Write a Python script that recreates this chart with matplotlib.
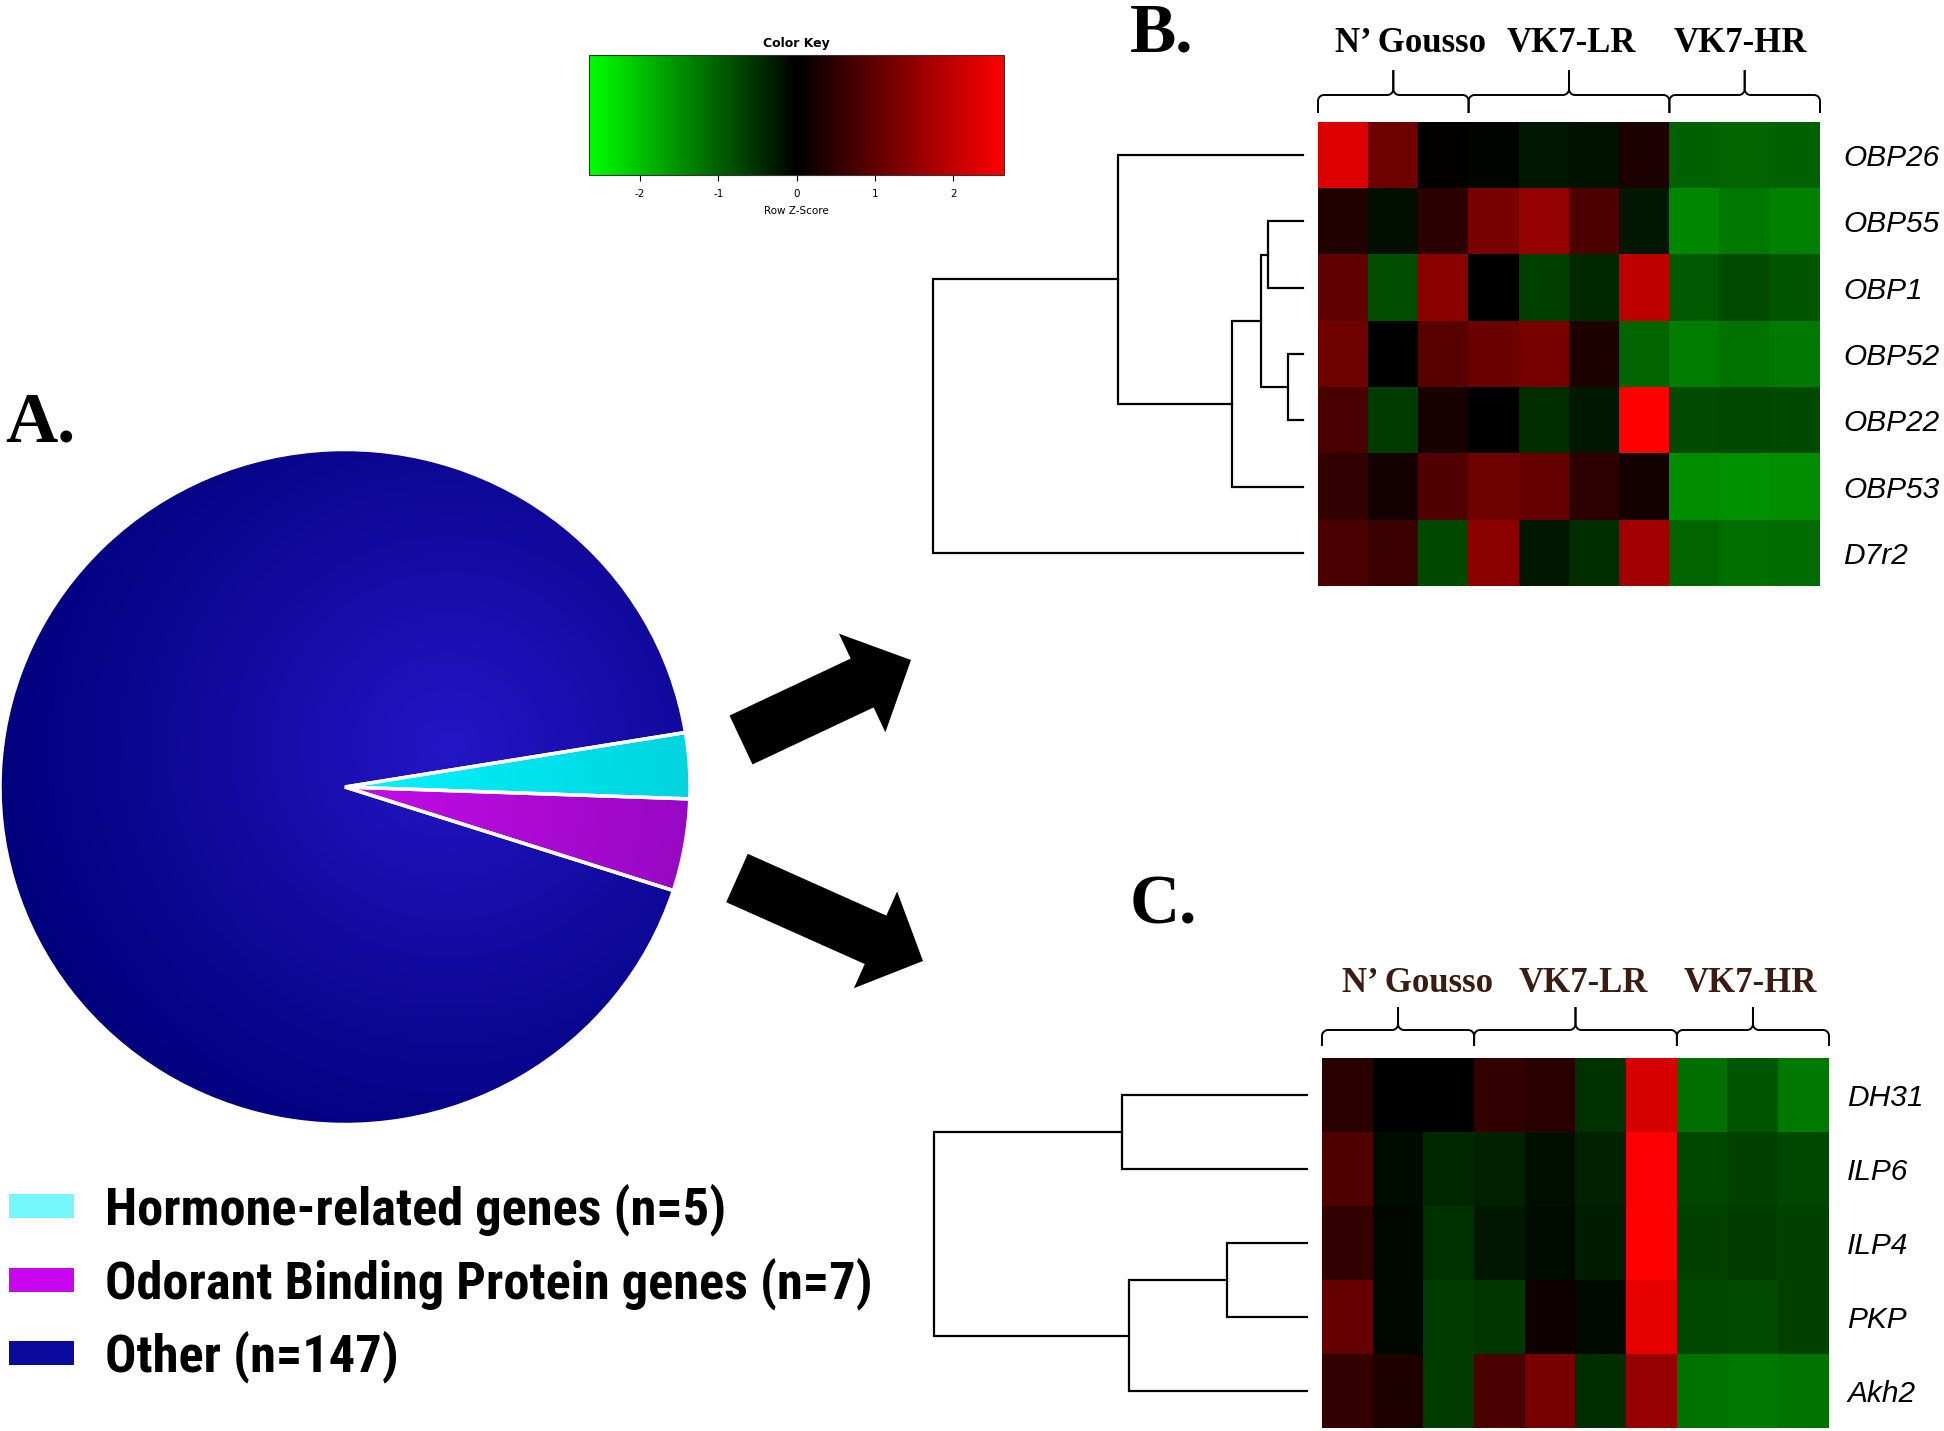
import numpy as np
import matplotlib
matplotlib.use('Agg')
import matplotlib.pyplot as plt
from matplotlib.colors import LinearSegmentedColormap, Normalize, to_rgb
from matplotlib.patches import FancyArrow, Rectangle
from matplotlib.cm import ScalarMappable
from matplotlib import font_manager

plt.rcParams['axes.unicode_minus'] = False

W, H = 1944, 1431

# ---- data ----
pie_labels = ['Hormone-related genes (n=5)', 'Odorant Binding Protein genes (n=7)', 'Other (n=147)']
pie_counts = [5, 7, 147]
key_cols = ['#74f6fb', '#c705ef', '#0a0a9e']

groups = ['N\u2019 Gousso', 'VK7-LR', 'VK7-HR']
group_size = [3, 4, 3]

genes_b = ['OBP26', 'OBP55', 'OBP1', 'OBP52', 'OBP22', 'OBP53', 'D7r2']
z_b = [[2.29, 1.15, 0.05, -0.05, -0.25, -0.20, 0.30, -1.00, -1.05, -1.00],
       [0.35, -0.15, 0.45, 1.25, 1.55, 0.80, -0.25, -1.40, -1.25, -1.33],
       [1.00, -0.80, 1.45, 0.00, -0.68, -0.42, 1.98, -0.93, -0.78, -0.88],
       [1.15, 0.00, 0.90, 1.10, 1.25, 0.30, -1.05, -1.30, -1.20, -1.25],
       [0.78, -0.62, 0.26, 0.00, -0.47, -0.26, 2.65, -0.78, -0.73, -0.75],
       [0.52, 0.20, 0.83, 1.15, 1.04, 0.47, 0.20, -1.45, -1.50, -1.45],
       [0.78, 0.62, -0.73, 1.45, -0.26, -0.47, 1.66, -1.04, -1.14, -1.10]]
# merges: (a, b, height)
link_b = [(3, 4, 15), (1, 2, 35), (8, 7, 42), (9, 5, 71), (0, 10, 185), (11, 6, 370)]

genes_c = ['DH31', 'ILP6', 'ILP4', 'PKP', 'Akh2']
z_c = [[0.42, 0.02, 0.00, 0.52, 0.42, -0.52, 2.23, -1.14, -0.88, -1.25],
       [0.83, -0.12, -0.42, -0.36, -0.16, -0.36, 2.60, -0.73, -0.68, -0.73],
       [0.52, -0.08, -0.52, -0.26, -0.12, -0.31, 2.65, -0.68, -0.62, -0.68],
       [1.04, -0.08, -0.62, -0.57, 0.16, -0.10, 2.40, -0.73, -0.78, -0.68],
       [0.52, 0.31, -0.62, 0.78, 1.25, -0.47, 1.56, -1.20, -1.25, -1.20]]
link_c = [(2, 3, 80), (0, 1, 185), (5, 4, 178), (6, 7, 373)]

zlim = 2.65

names = {f.name for f in font_manager.fontManager.ttflist}
leg_font = 'Liberation Sans'
for nm in ['Liberation Sans Narrow', 'Arial Narrow', 'Roboto Condensed', 'Open Sans Condensed']:
    if nm in names:
        leg_font = nm
        break
serif = 'Liberation Serif'
sans = 'Liberation Sans'

rg = LinearSegmentedColormap.from_list('rg', ['#00ff00', '#000000', '#ff0000'])
norm = Normalize(-zlim, zlim)

fig = plt.figure(figsize=(W / 100, H / 100), dpi=100)


def fax(x0, y0, x1, y1):
    return fig.add_axes([x0 / W, 1 - y1 / H, (x1 - x0) / W, (y1 - y0) / H])


# canvas in pixel coords
cv = fax(0, 0, W, H)
cv.set_xlim(0, W)
cv.set_ylim(H, 0)
cv.axis('off')

# ---- pie ----
axp = fax(0, 449.5, 690, 1124.5)
wedges, _ = axp.pie(pie_counts, startangle=9.3, counterclock=False, radius=1,
                    wedgeprops=dict(edgecolor='white', linewidth=2.5))
gx, gy = np.meshgrid(np.linspace(-1, 1, 500), np.linspace(1, -1, 500))
rr = np.clip(np.hypot(gx, gy), 0, 1)
t_other = np.clip(np.hypot(gx - 0.3, gy - 0.12) / 1.35, 0, 1) ** 0.9
grads = [(('#00f4ff', '#00d4de'), rr), (('#c40ce8', '#9808c4'), rr), (('#2616c8', '#00007a'), t_other)]
for w, ((c0, c1), t) in zip(wedges, grads):
    a, b = np.array(to_rgb(c0)), np.array(to_rgb(c1))
    img = a[None, None, :] * (1 - t[..., None]) + b[None, None, :] * t[..., None]
    im = axp.imshow(img, extent=(-1, 1, -1, 1), aspect='auto', zorder=1)
    im.set_clip_path(w)
    w.set_facecolor('none')
    w.set_zorder(2)
axp.set_aspect('auto')
axp.set_xlim(-1, 1)
axp.set_ylim(-1, 1)
axp.axis('off')

# legend
row_y = [1206, 1280, 1353]
leg_txt = []
for lab, col, y in zip(pie_labels, key_cols, row_y):
    cv.add_patch(Rectangle((9, y - 12), 65, 24, facecolor=col, edgecolor='none'))
    leg_txt.append(cv.text(105, y + 18, lab, family=leg_font, fontweight='bold', fontsize=32,
                           va='baseline', ha='left'))
# fit the longest label to its width in the reference
rend = fig.canvas.get_renderer()
wid = max(t.get_window_extent(rend).width for t in leg_txt)
fs = min(38, 32 * 769 / wid)
for t in leg_txt:
    t.set_fontsize(fs)

cv.text(5, 442, 'A.', family=serif, fontweight='bold', fontsize=52, va='baseline')
cv.text(1130, 52, 'B.', family=serif, fontweight='bold', fontsize=50, va='baseline')
cv.text(1130, 923, 'C.', family=serif, fontweight='bold', fontsize=50, va='baseline')

# arrows
cv.add_patch(FancyArrow(741, 740, 170, -80, width=54, head_width=109, head_length=54,
                        length_includes_head=True, color='black', lw=0))
cv.add_patch(FancyArrow(737, 878, 186, 83, width=53, head_width=106, head_length=52,
                        length_includes_head=True, color='black', lw=0))

# ---- color key ----
cax = fax(589, 55, 1004, 175)
cb = fig.colorbar(ScalarMappable(norm=norm, cmap=rg), cax=cax, orientation='horizontal',
                  ticks=[-2, -1, 0, 1, 2])
cb.outline.set_linewidth(0.8)
cb.outline.set_edgecolor('#333333')
cax.tick_params(labelsize=7.5, length=4, width=0.8, pad=6)
cax.set_xlabel('Row Z-Score', fontsize=7.5, labelpad=5)
cax.set_title('Color Key', fontsize=9, fontweight='bold', pad=6)


def dendro(ax, link, n):
    pos = {i: (float(i), 0.0) for i in range(n)}
    for k, (a, b, h) in enumerate(link):
        ya, ha = pos[a]
        yb, hb = pos[b]
        ax.plot([ha, h, h, hb], [ya, ya, yb, yb], color='black', lw=1.6, clip_on=False,
                solid_joinstyle='miter')
        pos[n + k] = ((ya + yb) / 2, h)
    ax.set_xlim(link[-1][2], 0)
    ax.set_ylim(n - 0.5, -0.5)
    ax.axis('off')


def heat(ax, z, genes, pad):
    ax.imshow(np.array(z), cmap=rg, norm=norm, aspect='auto', interpolation='nearest')
    ax.set_xticks([])
    ax.yaxis.tick_right()
    ax.set_yticks(range(len(genes)), genes)
    for lab in ax.get_yticklabels():
        lab.set_family(sans)
        lab.set_fontstyle('italic')
        lab.set_fontsize(21.5)
    ax.tick_params(axis='y', length=0, pad=pad)
    for s in ax.spines.values():
        s.set_visible(False)


def braces(x0, x1, y_end, y_bar, y_tip, r=6, color='black'):
    edges = np.concatenate([[0], np.cumsum(group_size)]) / sum(group_size)
    xs = x0 + edges * (x1 - x0)
    t = np.linspace(0, np.pi / 2, 12)
    for a, b in zip(xs[:-1], xs[1:]):
        m = (a + b) / 2
        px = np.concatenate([[a], a + r - r * np.cos(t), m - r + r * np.sin(t), [m]])
        py = np.concatenate([[y_end], y_bar + r - r * np.sin(t), y_bar - r + r * np.cos(t), [y_tip]])
        cv.plot(px, py, color=color, lw=1.4)
        cv.plot(2 * m - px, py, color=color, lw=1.4)
    return xs


# ---- panel B ----
axb = fax(1318, 122, 1820, 586)
heat(axb, z_b, genes_b, 16.5)
axdb = fax(933, 122, 1303, 586)
dendro(axdb, link_b, len(genes_b))
braces(1318, 1820, 112, 95, 71)
for g, x in zip(groups, [1410, 1571, 1740]):
    cv.text(x, 52, g, family=serif, fontweight='bold', fontsize=25, ha='center', va='baseline')

# ---- panel C ----
axc = fax(1322, 1058, 1829, 1428)
heat(axc, z_c, genes_c, 13)
axdc = fax(934, 1058, 1307, 1428)
dendro(axdc, link_c, len(genes_c))
braces(1322, 1829, 1045, 1030, 1008)
for g, x in zip(groups, [1417, 1583, 1750]):
    cv.text(x, 992, g, family=serif, fontweight='bold', fontsize=25, ha='center', va='baseline',
            color='#3a1c10')

fig.savefig('out.png', dpi=100, facecolor='white')
